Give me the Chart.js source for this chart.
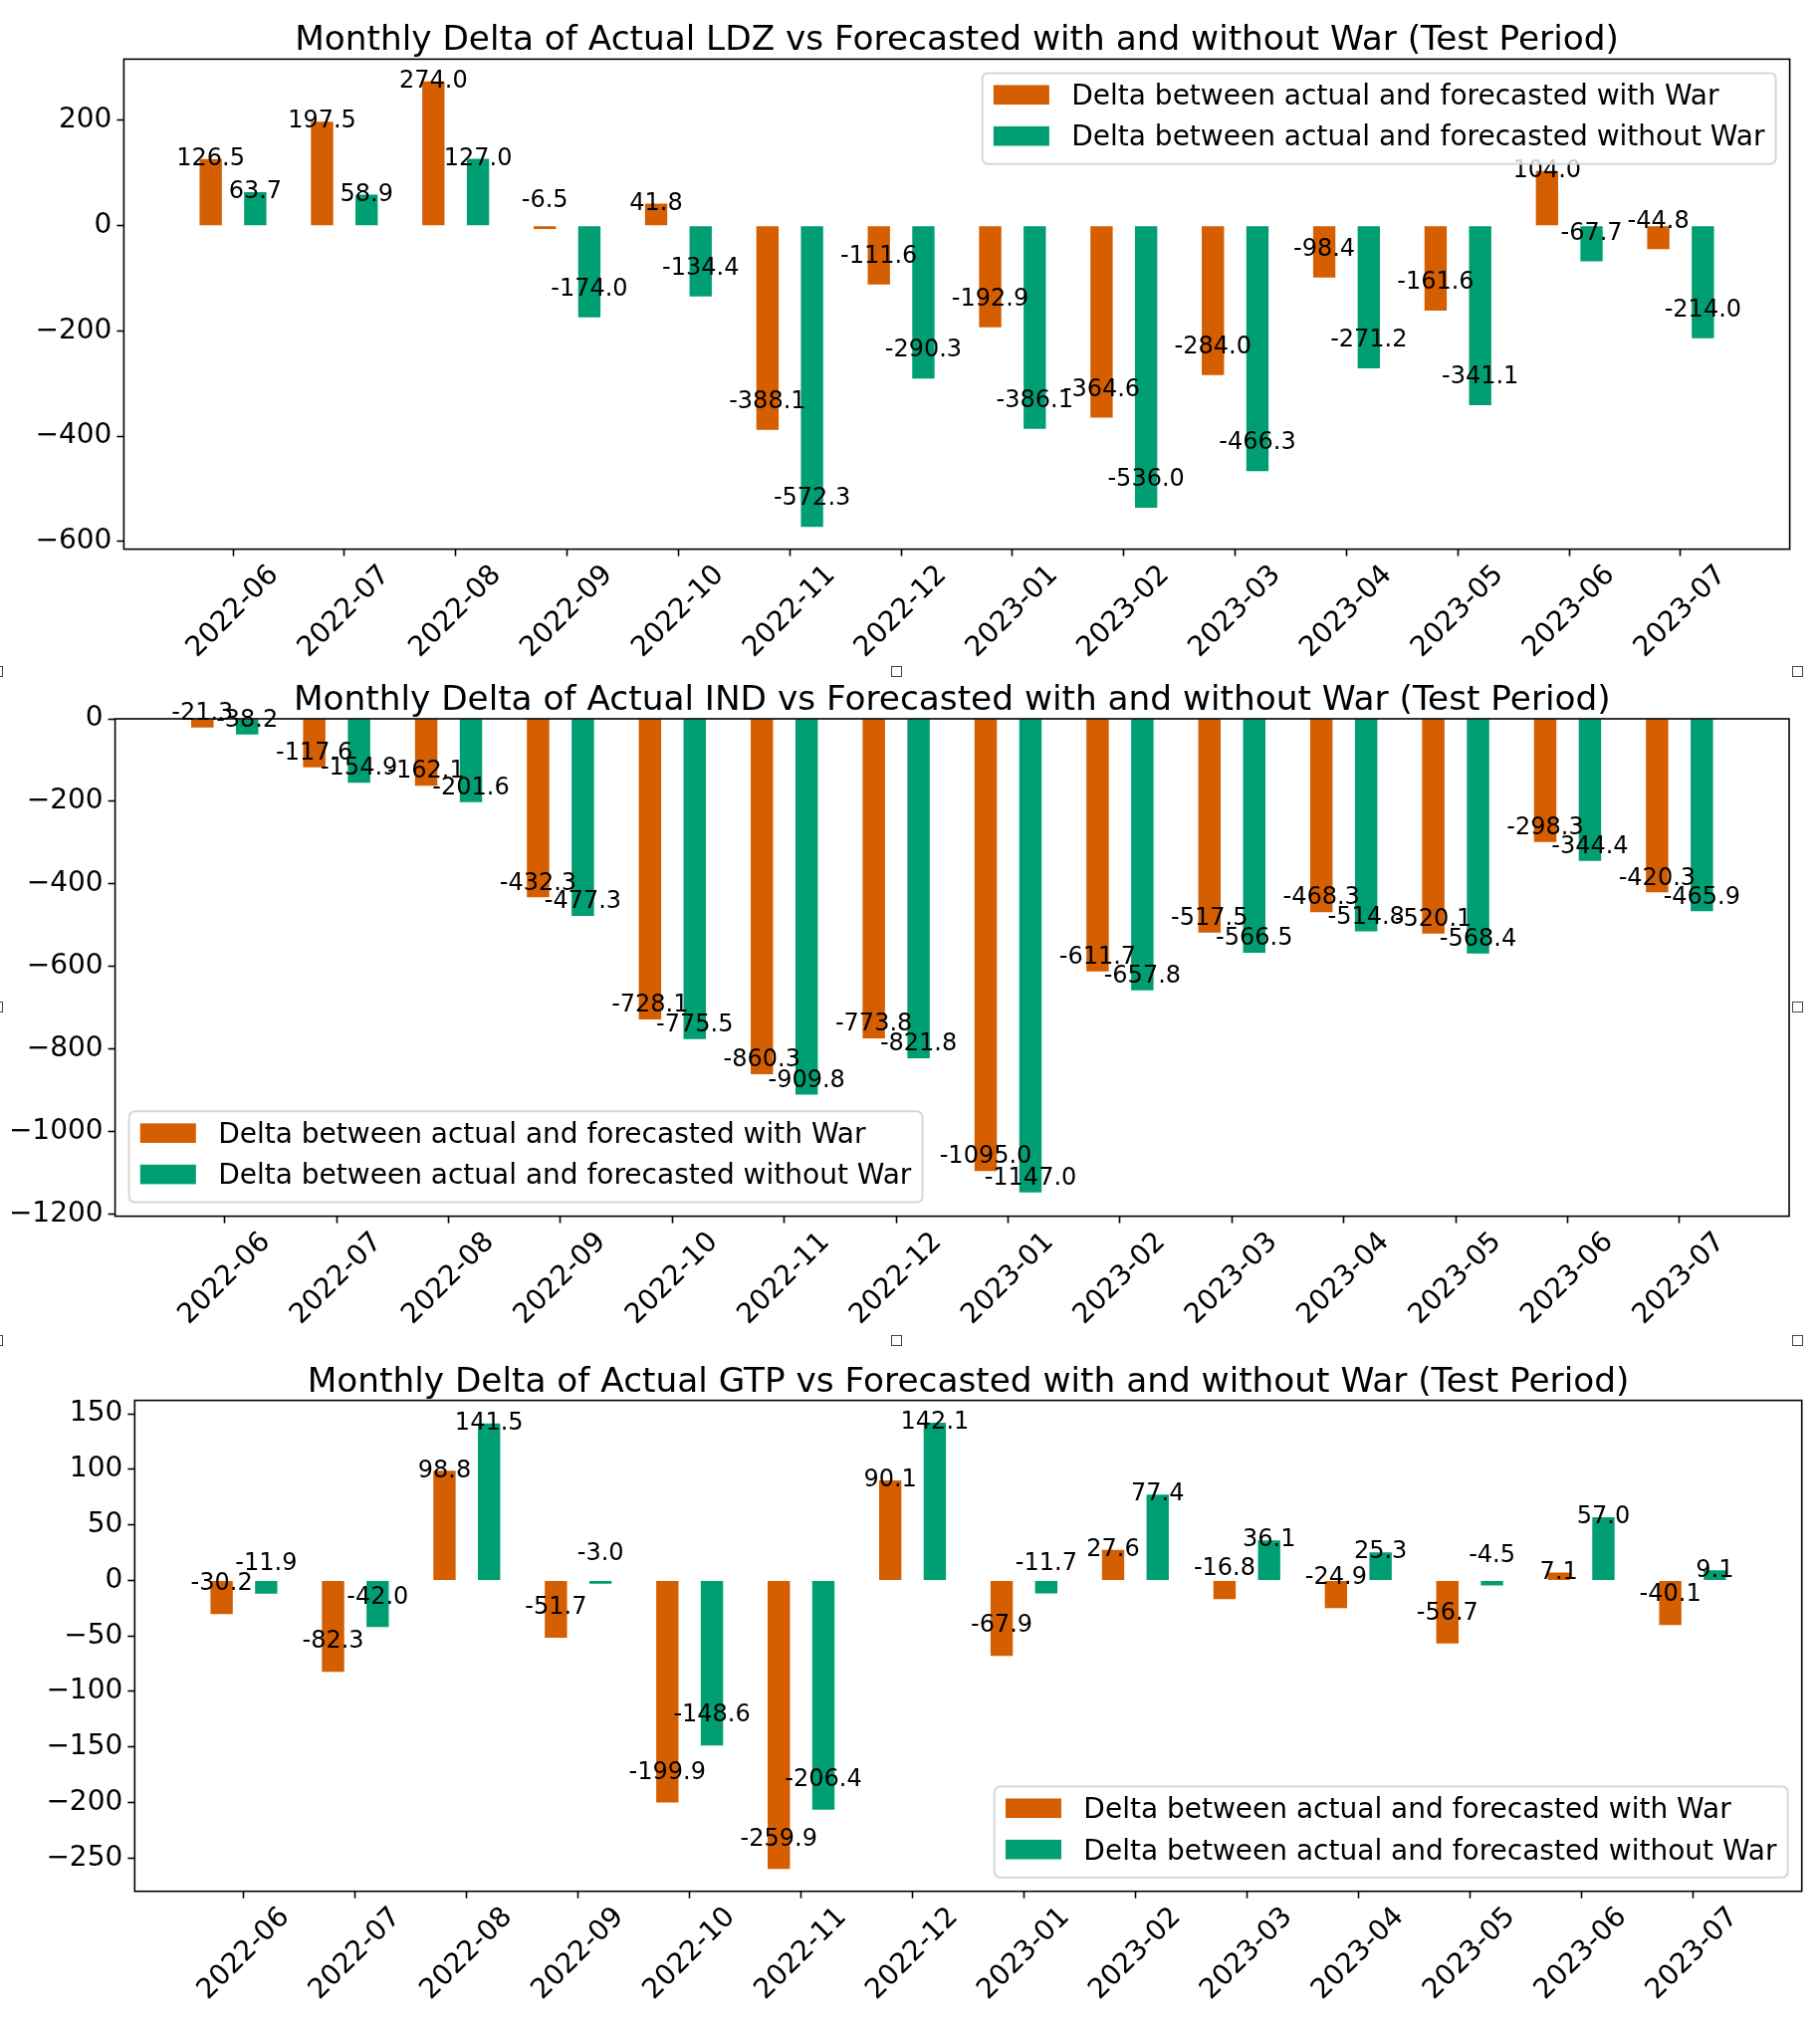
<!DOCTYPE html>
<html>
<head>
<meta charset="utf-8">
<title>Monthly Delta of Actual vs Forecasted</title>
<script src="https://cdn.jsdelivr.net/npm/chart.js@4.4.1/dist/chart.umd.min.js"></script>
<style>
    body { margin: 0; background: #fff; }
    #page { position: relative; width: 1828px; height: 2036px; overflow: hidden; background: #fff; }
    #page canvas { position: absolute; left: 0; }
    .handle { position: absolute; width: 9px; height: 9px; border: 1px solid #444; background: #fff; }
</style>
</head>
<body>
<div id="page">
    <canvas id="ldz-chart"></canvas>
    <canvas id="ind-chart"></canvas>
    <canvas id="gtp-chart"></canvas>
</div>
<script>
// Data
const months = ['2022-06', '2022-07', '2022-08', '2022-09', '2022-10', '2022-11', '2022-12',
                '2023-01', '2023-02', '2023-03', '2023-04', '2023-05', '2023-06', '2023-07'];

const seriesLabels = [
    'Delta between actual and forecasted with War',
    'Delta between actual and forecasted without War'
];

const ldzWithWar = [126.5, 197.5, 274.0, -6.5, 41.8, -388.1, -111.6, -192.9, -364.6, -284.0, -98.4, -161.6, 104.0, -44.8];
const ldzWithoutWar = [63.7, 58.9, 127.0, -174.0, -134.4, -572.3, -290.3, -386.1, -536.0, -466.3, -271.2, -341.1, -67.7, -214.0];

const indWithWar = [-21.3, -117.6, -162.1, -432.3, -728.1, -860.3, -773.8, -1095.0, -611.7, -517.5, -468.3, -520.1, -298.3, -420.3];
const indWithoutWar = [-38.2, -154.9, -201.6, -477.3, -775.5, -909.8, -821.8, -1147.0, -657.8, -566.5, -514.8, -568.4, -344.4, -465.9];

const gtpWithWar = [-30.2, -82.3, 98.8, -51.7, -199.9, -259.9, 90.1, -67.9, 27.6, -16.8, -24.9, -56.7, 7.1, -40.1];
const gtpWithoutWar = [-11.9, -42.0, 141.5, -3.0, -148.6, -206.4, 142.1, -11.7, 77.4, 36.1, 25.3, -4.5, 57.0, 9.1];

const ldzTicks = [-600, -400, -200, 0, 200];
const indTicks = [-1200, -1000, -800, -600, -400, -200, 0];
const gtpTicks = [-250, -200, -150, -100, -50, 0, 50, 100, 150];

const colors = ['#D55E00', '#009E73'];
const FONT = '"DejaVu Sans"';
const PAGE_WIDTH = 1828;

// Layout of the three panels (pixels inside each canvas)
const panels = [
    { id: 'ldz-chart', region: 'LDZ', withWar: ldzWithWar, withoutWar: ldzWithoutWar, ticks: ldzTicks,
      top: 0, height: 668, area: { left: 124.4, top: 59.4, right: 1797.6, bottom: 551.6 },
      legend: 'upper right', negShift: 28 },
    { id: 'ind-chart', region: 'IND', withWar: indWithWar, withoutWar: indWithoutWar, ticks: indTicks,
      top: 668, height: 672, area: { left: 115.6, top: 54, right: 1797, bottom: 553.6 },
      legend: 'lower left', negShift: 14 },
    { id: 'gtp-chart', region: 'GTP', withWar: gtpWithWar, withoutWar: gtpWithoutWar, ticks: gtpTicks,
      top: 1340, height: 696, area: { left: 135.3, top: 66.6, right: 1809.7, bottom: 559.7 },
      legend: 'lower right', negShift: 30 }
];

// Resize handles visible in the reference screenshot
const handles = [
    [-8, 669], [895, 669], [1800, 669],
    [-8, 1006], [1800, 1006],
    [-8, 1341], [895, 1341], [1800, 1341]
];

// Matplotlib style limits: 5% margin, but bars stick to zero
function valueLimits(a, b) {
    const all = a.concat(b, [0]);
    const lo = Math.min(...all);
    const hi = Math.max(...all);
    const m = 0.05 * (hi - lo);
    return { min: lo < 0 ? lo - m : lo, max: hi > 0 ? hi + m : hi };
}

// Title, frame, rotated month labels, value labels and legend
const panelDecor = {
    id: 'panelDecor',
    afterDraw(chart, args, opts) {
        const ctx = chart.ctx;
        const area = chart.chartArea;
        const xScale = chart.scales.x;
        ctx.save();

        // frame
        ctx.strokeStyle = '#000';
        ctx.lineWidth = 1.6;
        ctx.strokeRect(area.left, area.top, area.right - area.left, area.bottom - area.top);

        // title
        ctx.fillStyle = '#000';
        ctx.font = `34.3px ${FONT}`;
        ctx.textAlign = 'center';
        ctx.textBaseline = 'alphabetic';
        ctx.fillText(opts.title, (area.left + area.right) / 2, area.top - 9);

        // month labels, rotated 45 degrees and centred on the tick
        ctx.font = `28px ${FONT}`;
        ctx.textBaseline = 'middle';
        months.forEach((m, i) => {
            ctx.save();
            ctx.translate(xScale.getPixelForValue(i), area.bottom + 63);
            ctx.rotate(-Math.PI / 4);
            ctx.fillText(m, 0, 0);
            ctx.restore();
        });

        // value labels
        ctx.font = `24px ${FONT}`;
        chart.data.datasets.forEach((ds, d) => {
            const meta = chart.getDatasetMeta(d);
            meta.data.forEach((bar, i) => {
                const v = ds.data[i].y;
                const y = v >= 0 ? bar.y : bar.y - opts.negShift;
                ctx.fillText(v.toFixed(1), bar.x, y);
            });
        });

        // legend
        const fs = 28;
        ctx.font = `${fs}px ${FONT}`;
        const labels = chart.data.datasets.map(ds => ds.label);
        const textW = Math.max(...labels.map(l => ctx.measureText(l).width));
        const pad = 0.4 * fs, handleW = 2 * fs, handleH = 0.7 * fs, gap = 0.8 * fs;
        const rowH = 0.98 * fs, spacing = 0.5 * fs, inset = 0.5 * fs;
        const boxW = 2 * pad + handleW + gap + textW;
        const boxH = 2 * pad + labels.length * rowH + (labels.length - 1) * spacing;
        const bx = opts.legend.includes('right') ? area.right - inset - boxW : area.left + inset;
        const by = opts.legend.includes('upper') ? area.top + inset : area.bottom - inset - boxH;

        ctx.beginPath();
        ctx.roundRect(bx, by, boxW, boxH, 5.6);
        ctx.fillStyle = 'rgba(255, 255, 255, 0.8)';
        ctx.fill();
        ctx.strokeStyle = 'rgba(204, 204, 204, 0.8)';
        ctx.lineWidth = 2;
        ctx.stroke();

        ctx.textAlign = 'left';
        ctx.textBaseline = 'alphabetic';
        labels.forEach((label, r) => {
            const baseline = by + pad + r * (rowH + spacing) + 0.73 * fs;
            ctx.fillStyle = chart.data.datasets[r].backgroundColor;
            ctx.fillRect(bx + pad, baseline - handleH, handleW, handleH);
            ctx.fillStyle = '#000';
            ctx.fillText(label, bx + pad + handleW + gap, baseline);
        });

        ctx.restore();
    }
};

function buildPanel(p) {
    const canvas = document.getElementById(p.id);
    canvas.width = PAGE_WIDTH;
    canvas.height = p.height;
    canvas.style.width = PAGE_WIDTH + 'px';
    canvas.style.height = p.height + 'px';
    canvas.style.top = p.top + 'px';

    const limits = valueLimits(p.withWar, p.withoutWar);
    const xPad = 0.05 * (months.length - 1 + 0.6);

    const tickStyle = {
        drawOnChartArea: false,
        offset: false,
        tickLength: 7,
        tickWidth: 1.6,
        tickColor: '#000'
    };

    new Chart(canvas, {
        type: 'bar',
        data: {
            datasets: [p.withWar, p.withoutWar].map((values, d) => ({
                label: seriesLabels[d],
                data: values.map((v, i) => ({ x: i, y: v })),
                backgroundColor: colors[d],
                borderWidth: 0,
                categoryPercentage: 0.8,
                barPercentage: 0.5
            }))
        },
        options: {
            responsive: false,
            animation: false,
            devicePixelRatio: 1,
            layout: {
                padding: { left: 0, top: p.area.top, right: PAGE_WIDTH - p.area.right, bottom: 0 }
            },
            scales: {
                x: {
                    type: 'linear',
                    offset: false,
                    bounds: 'data',
                    min: -0.3 - xPad,
                    max: months.length - 1 + 0.3 + xPad,
                    afterBuildTicks: axis => { axis.ticks = months.map((m, i) => ({ value: i })); },
                    afterFit: axis => { axis.height = p.height - p.area.bottom; },
                    ticks: { display: false },
                    grid: tickStyle,
                    border: { display: false }
                },
                y: {
                    min: limits.min,
                    max: limits.max,
                    bounds: 'data',
                    afterBuildTicks: axis => { axis.ticks = p.ticks.map(v => ({ value: v })); },
                    afterFit: axis => { axis.width = p.area.left; },
                    ticks: {
                        color: '#000',
                        padding: 5,
                        font: { family: FONT, size: 28 },
                        callback: value => String(value).replace('-', '\u2212')
                    },
                    grid: tickStyle,
                    border: { display: false }
                }
            },
            plugins: {
                legend: { display: false },
                tooltip: { enabled: false },
                panelDecor: {
                    title: `Monthly Delta of Actual ${p.region} vs Forecasted with and without War (Test Period)`,
                    legend: p.legend,
                    negShift: p.negShift
                }
            }
        },
        plugins: [panelDecor]
    });
}

panels.forEach(buildPanel);

const page = document.getElementById('page');
handles.forEach(([x, y]) => {
    const h = document.createElement('div');
    h.className = 'handle';
    h.style.left = x + 'px';
    h.style.top = y + 'px';
    page.appendChild(h);
});
</script>
</body>
</html>
